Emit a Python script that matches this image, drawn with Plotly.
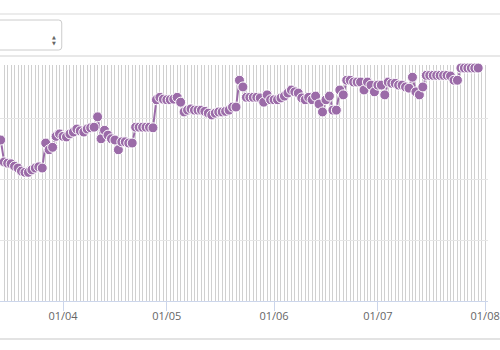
import pandas as pd
import plotly.graph_objects as go

start_date = "2023-03-14"
values = [
    26.4, 22.8, 22.6, 22.5, 22.1, 21.8, 21.3, 21.1, 21.1, 21.5,
    21.8, 22.0, 21.8, 25.9, 24.8, 25.2, 27.0, 27.4, 27.0, 26.9,
    27.4, 27.7, 28.2, 27.9, 27.7, 28.2, 28.4, 28.5, 30.2, 26.6,
    28.0, 27.2, 26.6, 26.4, 24.8, 26.1, 26.1, 25.9, 25.9, 28.5,
    28.5, 28.5, 28.5, 28.5, 28.4, 33.0, 33.4, 33.1, 33.0, 33.0,
    33.1, 33.4, 32.6, 31.0, 31.3, 31.5, 31.3, 31.3, 31.3, 31.1,
    30.8, 30.5, 30.8, 31.0, 31.0, 31.1, 31.3, 31.8, 31.8, 36.2,
    35.1, 33.4, 33.4, 33.4, 33.4, 33.3, 32.6, 33.8, 33.0, 33.0,
    33.0, 33.3, 33.6, 34.1, 34.6, 34.3, 34.1, 33.3, 33.0, 33.4,
    33.0, 33.6, 32.3, 31.0, 33.0, 33.6, 31.3, 31.3, 34.6, 33.8,
    36.2, 36.2, 35.9, 35.9, 35.9, 34.6, 35.9, 35.4, 34.3, 35.4,
    35.4, 33.8, 35.9, 35.7, 35.7, 35.4, 35.4, 35.1, 34.9, 36.7,
    34.3, 33.8, 35.1, 37.0, 37.0, 37.0, 37.0, 37.0, 37.0, 37.0,
    36.9, 36.2, 36.2, 38.2, 38.2, 38.2, 38.2, 38.2, 38.2,
]
dates = pd.date_range(start_date, periods=len(values), freq="D")

x_range = ["2023-03-13 19:00", "2023-08-01 20:00"]
y_range = [0, 38.7]

color = "#9b6ba8"
grid_v = "#d0d0d0"

fig = go.Figure()
fig.add_trace(go.Scatter(
    x=dates, y=values, mode="lines+markers",
    line=dict(color=color, width=2),
    marker=dict(size=10, color=color, line=dict(color="white", width=1)),
    cliponaxis=False, hoverinfo="x+y",
))

fig.update_xaxes(
    range=x_range, type="date",
    tickformat="%d/%m", dtick="M1", tick0="2023-01-01",
    showgrid=True, gridcolor=grid_v, gridwidth=1,
    minor=dict(dtick=86400000, showgrid=True, gridcolor=grid_v, gridwidth=1),
    showline=True, linecolor="#ccd6eb", linewidth=1,
    ticks="outside", ticklen=9, tickcolor="#ccd6eb", tickwidth=1,
    tickfont=dict(family="Open Sans", size=11, color="#666666"),
    ticklabeloverflow="allow", ticklabelstandoff=-4,
    zeroline=False,
)
fig.update_yaxes(
    range=y_range, dtick=10, showticklabels=False,
    showgrid=True, gridcolor="#e6e6e6", gridwidth=1,
    zeroline=False, showline=False,
)

plot_w, plot_h = 490.0, 236.0
def py(p):
    return (301 - p) / plot_h
def px(p):
    return p / plot_w

x0, x1 = px(-5), px(505)
rx, ry = px(3), 3 / plot_h
bx = px(62)
yt, yb = py(20), py(50)
shapes = [
    dict(type="line", xref="paper", yref="paper", x0=x0, x1=x1, y0=py(14), y1=py(14),
         line=dict(color="#d9d9d9", width=1)),
    dict(type="path", xref="paper", yref="paper",
         path=(f"M {px(-5)},{yt} L {bx-rx},{yt} Q {bx},{yt} {bx},{yt-ry} "
               f"L {bx},{yb+ry} Q {bx},{yb} {bx-rx},{yb} L {px(-5)},{yb}"),
         line=dict(color="#cccccc", width=1)),
    dict(type="line", xref="paper", yref="paper", x0=x0, x1=x1, y0=py(56), y1=py(56),
         line=dict(color="#e8e8e8", width=2)),
    dict(type="line", xref="paper", yref="paper", x0=x0, x1=x1, y0=py(339), y1=py(339),
         line=dict(color="#e3e3e3", width=2)),
]
annotations = [
    dict(xref="paper", yref="paper", x=px(50), y=py(31.5), text="▲", showarrow=False,
         font=dict(size=5, color="#666666", family="DejaVu Sans")),
    dict(xref="paper", yref="paper", x=px(50), y=py(38.5), text="▼", showarrow=False,
         font=dict(size=5, color="#666666", family="DejaVu Sans")),
]

fig.update_layout(
    width=500, height=350,
    margin=dict(l=0, r=10, t=65, b=49),
    paper_bgcolor="white", plot_bgcolor="white",
    showlegend=False, shapes=shapes, annotations=annotations,
)

fig.write_html("out.html")
